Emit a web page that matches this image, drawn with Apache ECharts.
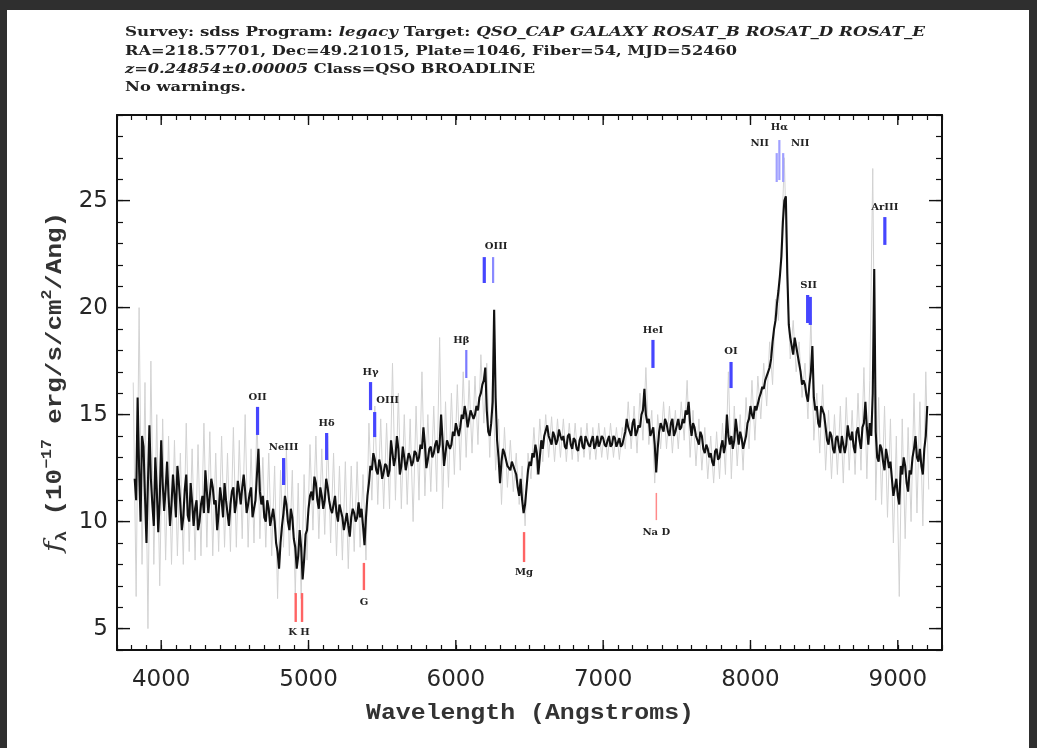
<!DOCTYPE html>
<html><head><meta charset="utf-8">
<script src="https://cdn.jsdelivr.net/npm/echarts@6/dist/echarts.min.js"></script>
<style>
html,body{margin:0;padding:0;background:#2f2f2f;width:1037px;height:748px;overflow:hidden}
#panel{position:absolute;left:7px;top:10px;width:1022px;height:738px;background:#fff}
#chart{position:absolute;left:0;top:0;width:1037px;height:748px}
</style></head><body><div id="panel"></div><div id="chart"></div>
<script>
// ---------- data ----------
const wavelength = [
3820,3840,3860,3880,3900,3920,3940,3960,3980,4000,
4020,4040,4060,4080,4100,4120,4140,4160,4180,4200,
4220,4240,4260,4280,4300,4320,4340,4360,4380,4400,
4420,4440,4460,4480,4500,4520,4540,4560,4580,4600,
4620,4640,4660,4680,4700,4720,4740,4760,4780,4800,
4820,4840,4860,4880,4900,4920,4940,4960,4980,5000,
5020,5040,5060,5080,5100,5120,5140,5160,5180,5200,
5220,5240,5260,5280,5300,5320,5340,5360,5380,5400,
5420,5440,5460,5480,5500,5520,5540,5560,5580,5600,
5620,5640,5660,5680,5700,5720,5740,5760,5780,5800,
5820,5840,5860,5880,5900,5920,5940,5960,5980,6000,
6020,6040,6060,6080,6100,6120,6140,6160,6180,6200,
6220,6240,6260,6280,6300,6320,6340,6360,6380,6400,
6420,6440,6460,6480,6500,6520,6540,6560,6580,6600,
6620,6640,6660,6680,6700,6720,6740,6760,6780,6800,
6820,6840,6860,6880,6900,6920,6940,6960,6980,7000,
7020,7040,7060,7080,7100,7120,7140,7160,7180,7200,
7220,7240,7260,7280,7300,7320,7340,7360,7380,7400,
7420,7440,7460,7480,7500,7520,7540,7560,7580,7600,
7620,7640,7660,7680,7700,7720,7740,7760,7780,7800,
7820,7840,7860,7880,7900,7920,7940,7960,7980,8000,
8020,8040,8060,8080,8100,8120,8140,8160,8180,8200,
8220,8240,8260,8280,8300,8320,8340,8360,8380,8400,
8420,8440,8460,8480,8500,8520,8540,8560,8580,8600,
8620,8640,8660,8680,8700,8720,8740,8760,8780,8800,
8820,8840,8860,8880,8900,8920,8940,8960,8980,9000,
9020,9040,9060,9080,9100,9120,9140,9160,9180,9200];
const flux = [
12.0,15.8,10.0,13.5,9.0,14.5,10.8,13.0,9.5,13.8,
10.5,12.8,9.8,12.2,10.2,11.8,9.6,11.5,10.3,11.8,
9.8,11.0,10.0,11.2,12.4,10.4,12.0,10.8,9.6,11.6,
10.2,11.0,9.8,11.4,10.4,11.9,10.8,12.2,10.4,11.3,
10.2,11.0,13.4,10.8,10.2,11.0,9.8,10.6,9.0,7.8,
9.8,11.2,10.0,10.6,9.2,7.8,9.6,7.3,9.4,10.6,
11.4,12.1,11.0,11.6,10.6,12.0,11.0,10.4,11.2,10.0,
10.5,9.6,10.4,9.3,10.6,10.0,10.9,10.6,8.9,11.2,
12.6,13.2,12.4,12.9,12.0,12.7,12.1,13.8,12.6,14.0,
12.2,13.5,12.4,13.2,12.6,13.3,12.8,13.6,14.4,12.5,
13.4,13.0,13.6,13.2,15.0,12.6,13.8,13.4,14.2,14.6,
14.0,15.0,15.4,14.4,15.2,14.8,15.4,15.8,16.4,17.2,
14.2,14.6,19.9,13.8,11.8,13.4,12.9,12.6,12.8,12.4,
11.6,12.0,10.4,11.6,12.8,13.2,13.6,12.2,13.8,14.0,
14.5,13.8,14.2,13.6,14.3,13.8,13.5,14.0,13.6,13.9,
13.4,13.8,13.5,14.0,13.6,13.8,13.4,14.0,13.7,13.9,
13.5,14.0,13.6,13.9,13.7,13.5,13.9,14.8,14.2,14.6,
14.0,14.5,15.0,16.2,14.6,14.0,14.4,12.3,14.2,14.4,
14.8,14.2,14.6,14.0,14.5,14.3,14.8,15.2,15.6,14.0,
14.4,13.8,14.2,13.4,13.6,13.0,12.8,13.3,12.9,13.5,
13.2,15.0,13.6,13.4,14.8,13.6,13.9,13.7,14.6,15.4,
14.8,15.2,15.8,16.3,16.6,17.0,17.6,19.0,20.2,21.5,
24.0,25.2,19.2,18.2,18.6,17.8,17.0,16.6,15.9,16.4,
18.2,15.2,14.6,15.4,15.0,13.8,14.2,13.4,13.9,13.5,
14.0,13.2,14.5,13.8,13.5,14.2,13.8,14.4,15.6,13.6,
14.0,21.8,13.0,13.6,12.8,13.4,12.5,12.0,11.6,11.2,
12.6,13.0,11.8,12.4,13.0,14.0,12.8,12.6,13.4,15.4];
// in-between flux samples (black curve is drawn from both lists together)
const wavelengthMid = [
3830,3850,3870,3890,3910,3930,3950,3970,3990,4010,
4030,4050,4070,4090,4110,4130,4150,4170,4190,4210,
4230,4250,4270,4290,4310,4330,4350,4370,4390,4410,
4430,4450,4470,4490,4510,4530,4550,4570,4590,4610,
4630,4650,4670,4690,4710,4730,4750,4770,4790,4810,
4830,4850,4870,4890,4910,4930,4950,4970,4990,5010,
5030,5050,5070,5090,5110,5130,5150,5170,5190,5210,
5230,5250,5270,5290,5310,5330,5350,5370,5390,5410,
5430,5450,5470,5490,5510,5530,5550,5570,5590,5610,
5630,5650,5670,5690,5710,5730,5750,5770,5790,5810,
5830,5850,5870,5890,5910,5930,5950,5970,5990,6010,
6030,6050,6070,6090,6110,6130,6150,6170,6190,6210,
6230,6250,6270,6290,6310,6330,6350,6370,6390,6410,
6430,6450,6470,6490,6510,6530,6550,6570,6590,6610,
6630,6650,6670,6690,6710,6730,6750,6770,6790,6810,
6830,6850,6870,6890,6910,6930,6950,6970,6990,7010,
7030,7050,7070,7090,7110,7130,7150,7170,7190,7210,
7230,7250,7270,7290,7310,7330,7350,7370,7390,7410,
7430,7450,7470,7490,7510,7530,7550,7570,7590,7610,
7630,7650,7670,7690,7710,7730,7750,7770,7790,7810,
7830,7850,7870,7890,7910,7930,7950,7970,7990,8010,
8030,8050,8070,8090,8110,8130,8150,8170,8190,8210,
8230,8250,8270,8290,8310,8330,8350,8370,8390,8410,
8430,8450,8470,8490,8510,8530,8550,8570,8590,8610,
8630,8650,8670,8690,8710,8730,8750,8770,8790,8810,
8830,8850,8870,8890,8910,8930,8950,8970,8990,9010,
9030,9050,9070,9090,9110,9130,9150,9170,9190];
const fluxMid = [
11.0,12.5,14.0,11.2,11.8,12.0,9.8,11.5,11.0,11.8,
11.5,11.2,10.8,11.3,12.6,10.8,10.2,12.2,10.0,10.9,
10.6,9.6,10.8,10.4,11.4,11.2,11.6,11.0,10.4,11.0,
11.8,10.4,10.8,11.6,10.9,11.4,11.6,11.4,10.8,11.6,
10.6,12.2,11.4,11.2,10.0,10.6,10.2,10.0,8.6,9.0,
10.4,10.8,9.6,10.2,8.8,8.4,8.8,8.2,9.6,11.2,
11.0,11.8,10.6,11.2,11.0,11.6,10.6,10.8,10.4,10.8,
10.2,10.0,9.8,10.2,10.4,10.2,10.2,9.8,10.2,11.8,
12.4,12.9,12.2,12.6,12.3,12.6,12.4,13.2,13.0,13.4,
12.6,13.0,12.8,13.0,12.8,13.2,13.0,13.4,13.6,12.9,
13.5,13.2,13.8,13.6,13.8,13.2,13.8,13.6,14.0,14.6,
14.4,14.8,15.0,14.8,15.2,15.0,15.2,16.0,16.6,15.2,
14.0,15.6,15.8,13.0,12.8,13.2,12.6,12.4,12.6,12.2,
11.2,11.0,10.8,12.4,12.6,13.0,13.2,13.0,13.4,14.0,
14.0,13.6,14.0,13.8,14.0,14.0,13.4,14.1,13.4,13.8,
13.3,14.0,13.4,14.0,13.5,14.0,13.6,13.5,14.0,13.6,
13.8,13.5,14.0,13.5,13.9,13.6,14.2,14.4,14.0,14.8,
14.2,14.4,15.2,15.0,14.8,14.2,13.6,13.4,14.6,14.2,
14.6,14.0,14.8,14.2,14.8,14.4,14.6,15.0,14.6,14.6,
14.0,13.6,14.0,13.2,13.4,13.2,12.6,13.4,13.0,13.8,
13.6,14.0,14.0,13.8,14.2,14.2,13.4,14.0,14.8,15.0,
15.4,15.2,16.0,16.2,16.8,17.2,18.4,19.4,20.8,22.4,
25.0,21.6,18.6,17.8,18.2,17.4,16.4,16.4,15.6,17.0,
15.8,15.4,14.4,15.4,14.4,13.6,14.0,13.2,14.0,13.2,
14.0,13.6,14.0,14.2,13.2,14.4,13.4,14.6,14.4,14.6,
16.0,14.2,12.8,13.4,12.4,13.0,12.8,11.2,12.0,10.8,
12.2,12.6,11.4,12.2,13.4,13.0,13.4,12.2,14.0];
const rawWavelength = [
3810,3830,3850,3870,3890,3910,3930,3950,3970,3990,
4010,4030,4050,4070,4090,4110,4130,4150,4170,4190,
4210,4230,4250,4270,4290,4310,4330,4350,4370,4390,
4410,4430,4450,4470,4490,4510,4530,4550,4570,4590,
4610,4630,4650,4670,4690,4710,4730,4750,4770,4790,
4810,4830,4850,4870,4890,4910,4930,4950,4970,4990,
5010,5030,5050,5070,5090,5110,5130,5150,5170,5190,
5210,5230,5250,5270,5290,5310,5330,5350,5370,5390,
5410,5430,5450,5470,5490,5510,5530,5550,5570,5590,
5610,5630,5650,5670,5690,5710,5730,5750,5770,5790,
5810,5830,5850,5870,5890,5910,5930,5950,5970,5990,
6010,6030,6050,6070,6090,6110,6130,6150,6170,6190,
6210,6230,6250,6270,6290,6310,6330,6350,6370,6390,
6410,6430,6450,6470,6490,6510,6530,6550,6570,6590,
6610,6630,6650,6670,6690,6710,6730,6750,6770,6790,
6810,6830,6850,6870,6890,6910,6930,6950,6970,6990,
7010,7030,7050,7070,7090,7110,7130,7150,7170,7190,
7210,7230,7250,7270,7290,7310,7330,7350,7370,7390,
7410,7430,7450,7470,7490,7510,7530,7550,7570,7590,
7610,7630,7650,7670,7690,7710,7730,7750,7770,7790,
7810,7830,7850,7870,7890,7910,7930,7950,7970,7990,
8010,8030,8050,8070,8090,8110,8130,8150,8170,8190,
8210,8230,8250,8270,8290,8310,8330,8350,8370,8390,
8410,8430,8450,8470,8490,8510,8530,8550,8570,8590,
8610,8630,8650,8670,8690,8710,8730,8750,8770,8790,
8810,8830,8850,8870,8890,8910,8930,8950,8970,8990,
9010,9030,9050,9070,9090,9110,9130,9150,9170,9190,
9210];
const rawFlux = [
16.5,6.5,20.0,8.0,16.5,5.0,17.5,8.0,15.0,7.0,
14.8,8.2,14.0,8.0,13.8,8.4,13.2,8.0,14.6,8.6,
13.4,8.2,13.6,8.4,14.6,8.8,14.2,8.4,13.2,8.6,
14.0,8.8,13.2,8.6,14.4,8.8,13.8,9.2,15.0,8.8,
13.4,9.0,15.0,9.2,13.0,8.8,13.2,8.4,12.6,6.4,
12.4,8.8,13.4,8.4,12.4,6.6,11.8,6.4,12.2,8.2,
13.6,9.6,14.0,9.2,13.4,9.4,14.0,9.0,13.2,8.4,
12.6,8.2,12.8,7.8,12.6,8.6,12.8,8.8,12.2,8.2,
14.6,11.0,15.4,10.8,14.8,10.6,14.6,10.6,17.4,11.0,
16.0,10.6,15.0,10.8,14.8,10.0,15.4,11.0,17.0,11.2,
15.0,11.4,15.4,11.4,18.6,10.6,15.6,11.6,16.0,12.2,
16.4,12.4,17.0,13.0,16.6,13.2,16.8,13.6,17.8,14.6,
17.4,13.0,16.8,12.4,14.8,10.8,14.4,11.6,13.8,11.4,
13.2,10.8,12.6,9.8,13.2,12.0,14.4,12.2,14.8,12.8,
15.0,13.0,14.9,12.8,14.8,13.0,14.8,12.8,14.6,12.9,
14.6,12.8,14.4,13.0,14.6,12.9,14.4,12.9,14.6,13.0,
14.4,12.9,14.6,13.0,14.4,12.9,14.4,13.4,15.6,13.4,
15.4,13.2,16.0,13.8,17.2,13.6,15.2,11.8,15.0,13.4,
15.6,13.4,15.4,13.2,15.2,13.4,15.6,13.8,16.6,13.0,
15.2,12.6,14.8,12.4,14.4,12.0,14.0,11.8,14.2,12.0,
14.6,12.2,17.0,12.0,15.4,12.6,15.0,12.4,15.8,13.4,
16.6,13.8,16.8,14.8,17.4,15.4,18.4,16.4,20.4,19.4,
23.0,27.0,21.0,17.6,19.4,17.0,18.4,15.8,17.4,14.8,
19.6,13.8,16.0,13.2,16.4,12.4,15.2,12.0,15.0,12.2,
15.4,11.8,15.8,12.4,15.2,12.2,16.0,12.4,17.2,12.0,
16.6,26.5,11.0,15.8,10.8,15.4,10.2,14.8,9.0,14.0,
6.5,14.8,9.2,14.4,10.0,16.0,10.4,15.6,9.8,17.0,
11.5];
const xTickValues = [4000,5000,6000,7000,8000,9000];
const yTickValues = [5,10,15,20,25];
// spectral line markers (observed wavelength, marker top/bottom flux, label flux)
const lineNames  = ['OII','NeIII','Hδ','Hγ','OIII','Hβ','OIII','OIII','HeI','OI','NII','Hα','NII','SII','SII','ArIII','K','H','G','Mg','Na D'];
const lineLabels = ['OII','NeIII','Hδ','Hγ','OIII','Hβ','','OIII','HeI','OI','NII','Hα','NII','SII','','ArIII','K','H','G','Mg','Na D'];
const lineWaves  = [4654,4831,5123,5421,5449,6071,6193,6253,7338,7868,8178,8196,8222,8388,8406,8912,4913,4956,5376,6463,7361];
const lineTop    = [15.36,12.97,14.14,16.52,15.12,18.02,22.36,22.36,18.49,17.46,27.22,27.83,27.22,20.59,20.50,24.23,6.66,6.66,8.07,9.51,11.34];
const lineBottom = [14.05,11.71,12.88,15.21,13.95,16.71,21.15,21.15,17.18,16.24,25.87,25.96,25.87,19.28,19.19,22.93,5.31,5.31,6.80,8.11,10.07];
const lineLabelY = [15.82,13.49,14.61,16.99,15.68,18.49,22.88,22.88,18.95,17.93,27.69,28.44,27.69,21.06,21.06,24.70,4.84,4.84,6.24,7.64,9.51];
const lineKind   = ['e','e','e','e','e','e','e','e','e','e','e','e','e','e','e','e','a','a','a','a','a'];
const titleLines = [
  [['Survey: sdss Program: ',0],['legacy',1],[' Target: ',0],['QSO_CAP GALAXY ROSAT_B ROSAT_D ROSAT_E',1]],
  [['RA=218.57701, Dec=49.21015, Plate=1046, Fiber=54, MJD=52460',0]],
  [['z=0.24854±0.00005',1],[' Class=QSO BROADLINE',0]],
  [['No warnings.',0]]
];
const xTitle = 'Wavelength (Angstroms)';

// ---------- layout / style ----------
const X_MIN = 3700, X_MAX = 9300, Y_MIN = 4, Y_MAX = 29;
const labelDx = {4: 13, 5: -5, 7: 3, 10: -17, 12: 17, 13: 1, 16: -3, 17: 3};
const lineStyleFor = function(i){
  if (lineKind[i] === 'a') return {stroke: i === 20 ? '#ff8a8a' : '#ff6464', lineWidth: i === 20 ? 1.5 : 2.4};
  if (i >= 10 && i <= 12) return {stroke: '#a0a0ff', lineWidth: 2.2};
  if (i === 5) return {stroke: '#7a7aff', lineWidth: 2.2};
  if (i === 7) return {stroke: '#8a8aff', lineWidth: 2.2};
  return {stroke: '#4646ff', lineWidth: 3.2};
};
const mctx = document.createElement('canvas').getContext('2d');
function measure(font, t){ mctx.font = font; return mctx.measureText(t).width; }

const TITLE_FONT = "'DejaVu Serif'";
const titleTargets = [800, 612, 410, 121];
const titleY = [33, 52, 70, 88];
const graphics = [];
titleLines.forEach(function(segs, k){
  let w = 0, txt = '';
  segs.forEach(function(s){
    w += measure((s[1] ? 'italic ' : '') + 'bold 13px ' + TITLE_FONT, s[0]);
    txt += '{' + (s[1] ? 'i' : 'n') + '|' + s[0] + '}';
  });
  graphics.push({type:'text', x:125, y:titleY[k], scaleX: titleTargets[k]/w, silent:true,
    style:{text: txt, verticalAlign:'middle', align:'left',
      rich:{n:{fontFamily:TITLE_FONT, fontWeight:'bold', fontSize:13, fill:'#222'},
            i:{fontFamily:TITLE_FONT, fontWeight:'bold', fontStyle:'italic', fontSize:13, fill:'#222'}}}});
});
const AX_FONT = "'Liberation Mono'";
const xtW = measure("bold 22px " + AX_FONT, xTitle);
graphics.push({type:'text', x:530, y:713, scaleX: 328/xtW, silent:true,
  style:{text:xTitle, fontFamily:AX_FONT, fontWeight:'bold', fontSize:22, fill:'#333', align:'center', verticalAlign:'middle'}});
// y title
const ySegs = [['f','f'],['λ','s'],[' (10','n'],['−17','p'],[' erg/s/cm','n'],['2','p'],['/Ang)','n']];
const yFonts = {f:"italic 24px 'DejaVu Serif'", s:"bold 15px " + AX_FONT, n:"bold 22px " + AX_FONT, p:"bold 14px " + AX_FONT};
let ytW = 0, ytTxt = '';
ySegs.forEach(function(s){ ytW += measure(yFonts[s[1]], s[0]); ytTxt += '{' + s[1] + '|' + s[0] + '}'; });
graphics.push({type:'text', x:55, y:382, rotation:Math.PI/2, scaleX: 340/ytW, silent:true,
  style:{text:ytTxt, align:'center', verticalAlign:'middle',
    rich:{f:{fontFamily:"'DejaVu Serif'", fontStyle:'italic', fontSize:24, fill:'#333', lineHeight:30, verticalAlign:'middle'},
          s:{fontFamily:AX_FONT, fontWeight:'bold', fontSize:15, fill:'#333', lineHeight:30, verticalAlign:'bottom'},
          n:{fontFamily:AX_FONT, fontWeight:'bold', fontSize:22, fill:'#333', lineHeight:30, verticalAlign:'middle'},
          p:{fontFamily:AX_FONT, fontWeight:'bold', fontSize:14, fill:'#333', lineHeight:30, verticalAlign:'top'}}}});

function pairs(xs, ys){ return xs.map(function(x, i){ return [x, ys[i]]; }); }
const blackData = pairs(wavelength, flux).concat(pairs(wavelengthMid, fluxMid))
  .sort(function(a, b){ return a[0] - b[0]; });

const axisCommonX = {type:'value', min:X_MIN, max:X_MAX, interval:100,
  axisLine:{show:true, onZero:false, lineStyle:{color:'#111', width:2}},
  axisTick:{show:true, inside:true, length:5, lineStyle:{color:'#111', width:1.2}},
  splitLine:{show:false}, minorTick:{show:false}};
const axisCommonY = {type:'value', min:Y_MIN, max:Y_MAX, interval:1,
  axisLine:{show:true, onZero:false, lineStyle:{color:'#111', width:2}},
  axisTick:{show:true, inside:true, length:6, lineStyle:{color:'#111', width:1.2}},
  splitLine:{show:false}, minorTick:{show:false}};
const tickLabel = {fontFamily:"'DejaVu Sans'", fontSize:23, color:'#262626'};

const chart = echarts.init(document.getElementById('chart'), null, {renderer:'canvas'});
chart.setOption({
  animation:false,
  backgroundColor:'transparent',
  grid:{left:117, right:95, top:115, bottom:98, containLabel:false, outerBoundsMode:'none'},
  xAxis:[
    Object.assign({}, axisCommonX, {position:'bottom', axisLabel:Object.assign({show:true, margin:19,
      formatter:function(v){ return (Math.round(v) % 1000 === 0) ? String(Math.round(v)) : ''; }}, tickLabel)}),
    Object.assign({}, axisCommonX, {position:'top', axisLabel:{show:false}})
  ],
  yAxis:[
    Object.assign({}, axisCommonY, {position:'left', axisLabel:Object.assign({show:true, margin:9,
      formatter:function(v){ return (Math.round(v) % 5 === 0) ? String(Math.round(v)) : ''; }}, tickLabel)}),
    Object.assign({}, axisCommonY, {position:'right', axisLabel:{show:false}})
  ],
  graphic: graphics,
  series:[
    {type:'line', name:'raw', data:pairs(rawWavelength, rawFlux), showSymbol:false, symbol:'none',
     lineStyle:{color:'#d2d2d2', width:1}, z:1, silent:true},
    {type:'line', name:'flux', data:blackData, showSymbol:false, symbol:'none',
     lineStyle:{color:'#111', width:2.1}, z:2, silent:true},
    {type:'custom', name:'lines', silent:true, clip:false, z:3,
     data: lineNames.map(function(n, i){ return [lineWaves[i], lineTop[i], lineBottom[i], lineLabelY[i], i]; }),
     encode:{x:0, y:1},
     renderItem:function(params, api){
       const i = api.value(4);
       const p1 = api.coord([api.value(0), api.value(1)]);
       const p2 = api.coord([api.value(0), api.value(2)]);
       const pl = api.coord([api.value(0), api.value(3)]);
       const st = lineStyleFor(i);
       const children = [{type:'line', shape:{x1:p1[0], y1:p1[1], x2:p2[0], y2:p2[1]}, style:{stroke:st.stroke, lineWidth:st.lineWidth}}];
       if (lineLabels[i]) children.push({type:'text', x:pl[0] + (labelDx[i] || 0), y:pl[1],
         style:{text:lineLabels[i], fontFamily:"'DejaVu Serif'", fontWeight:'bold', fontSize:10, fill:'#222', align:'center', verticalAlign:'middle'}});
       return {type:'group', children:children};
     }},
    {type:'custom', name:'xmajor', silent:true, clip:false, z:4,
     data: xTickValues.map(function(v){ return [v, Y_MIN]; }), encode:{x:0, y:1},
     renderItem:function(params, api){
       const b = api.coord([api.value(0), Y_MIN]), t = api.coord([api.value(0), Y_MAX]);
       const s = {stroke:'#111', lineWidth:1.4};
       return {type:'group', children:[
         {type:'line', shape:{x1:b[0], y1:b[1], x2:b[0], y2:b[1]-10}, style:s},
         {type:'line', shape:{x1:t[0], y1:t[1], x2:t[0], y2:t[1]+10}, style:s}]};
     }},
    {type:'custom', name:'ymajor', silent:true, clip:false, z:4,
     data: yTickValues.map(function(v){ return [X_MIN, v]; }), encode:{x:0, y:1},
     renderItem:function(params, api){
       const l = api.coord([X_MIN, api.value(1)]), r = api.coord([X_MAX, api.value(1)]);
       const s = {stroke:'#111', lineWidth:1.4};
       return {type:'group', children:[
         {type:'line', shape:{x1:l[0], y1:l[1], x2:l[0]+13, y2:l[1]}, style:s},
         {type:'line', shape:{x1:r[0], y1:r[1], x2:r[0]-13, y2:r[1]}, style:s}]};
     }}
  ]
});
</script></body></html>
